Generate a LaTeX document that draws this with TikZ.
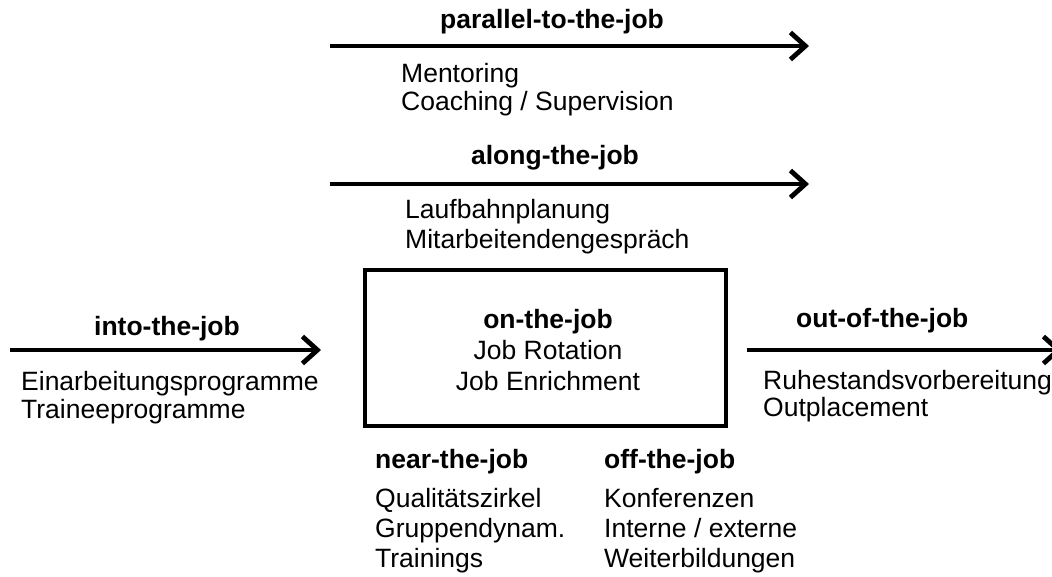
\documentclass[tikz,border=0pt]{standalone}
\usepackage{fontspec}
\setmainfont{Liberation Sans}
\usetikzlibrary{arrows.meta}
\begin{document}
\begin{tikzpicture}[x=1pt,y=-1pt,
  txt/.style={anchor=base west,inner sep=0pt,font=\fontsize{26.5}{29}\selectfont,text=black},
  ctxt/.style={anchor=base,inner sep=0pt,font=\fontsize{26.5}{29}\selectfont,text=black},
  head/.style={anchor=base,inner sep=0pt,font=\fontsize{26.5}{29}\selectfont\bfseries,text=black},
  headw/.style={anchor=base west,inner sep=0pt,font=\fontsize{26.5}{29}\selectfont\bfseries,text=black},
  flow/.style={line width=4.8pt,-{Straight Barb[length=15pt,width=27pt,line width=4.8pt]}},
  frame/.style={draw,line width=4.5pt,minimum width=361pt,minimum height=156pt,inner sep=0pt}]
\useasboundingbox (0,0) rectangle (1052,576);
% parallel-to-the-job
\coordinate (p1) at (330,46);
\coordinate (p2) at (809,46);
\draw[flow] (p1) -- (p2);
\node[head] (ph) at (552,28) {parallel-to-the-job};
\node[txt] (pa) at (401,82) {Mentoring};
\node[txt] (pb) at (401,110) {Coaching / Supervision};
% along-the-job
\coordinate (a1) at (330,184);
\coordinate (a2) at (809,184);
\draw[flow] (a1) -- (a2);
\node[head] (ah) at (555,164) {along-the-job};
\node[txt] (aa) at (405,218) {Laufbahnplanung};
\node[txt] (ab) at (405,248) {Mitarbeitendengespräch};
% on-the-job box
\node[frame] (box) at (545.5,348) {};
\node[head] (oh) at (548,328) {on-the-job};
\node[ctxt] (oa) at (548,359) {Job Rotation};
\node[ctxt] (ob) at (548,390) {Job Enrichment};
% into-the-job
\coordinate (i1) at (10,350);
\coordinate (i2) at (321,350);
\draw[flow] (i1) -- (i2);
\node[head] (ih) at (167,335) {into-the-job};
\node[txt] (ia) at (21,390) {Einarbeitungsprogramme};
\node[txt] (ib) at (21,418) {Traineeprogramme};
% out-of-the-job
\coordinate (u1) at (747,350);
\coordinate (u2) at (1062,350);
\draw[flow] (u1) -- (u2);
\node[headw] (uh) at (796,327) {out-of-the-job};
\node[txt] (ua) at (763,389) {Ruhestandsvorbereitung};
\node[txt] (ub) at (763,416) {Outplacement};
% near-the-job
\node[headw] (nh) at (375,468) {near-the-job};
\node[txt] (na) at (375,507) {Qualitätszirkel};
\node[txt] (nb) at (375,537) {Gruppendynam.};
\node[txt] (nc) at (375,567) {Trainings};
% off-the-job
\node[headw] (fh) at (604,468) {off-the-job};
\node[txt] (fa) at (604,507) {Konferenzen};
\node[txt] (fb) at (604,537) {Interne / externe};
\node[txt] (fc) at (604,567) {Weiterbildungen};
\end{tikzpicture}
\end{document}
